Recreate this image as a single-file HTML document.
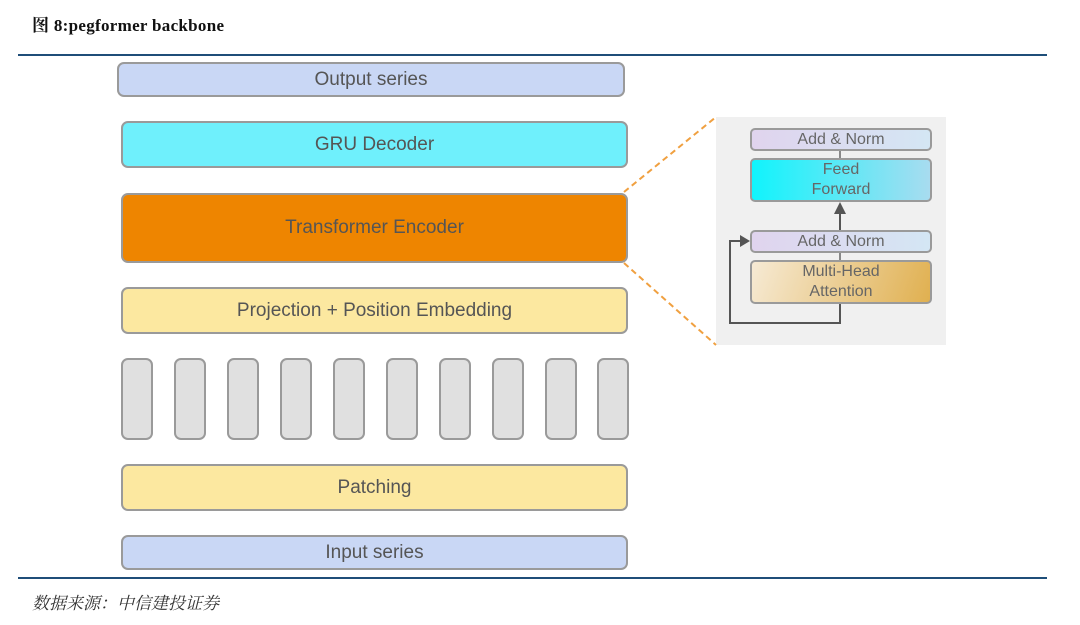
<!DOCTYPE html>
<html><head><meta charset="utf-8"><style>
body{margin:0;width:1080px;height:625px;background:#fff;position:relative;overflow:hidden;font-family:"Liberation Sans",sans-serif}
.b{position:absolute;box-sizing:border-box;border:2px solid #9a9a9a;border-radius:7px;display:flex;align-items:center;justify-content:center;color:#555;font-size:19px;text-align:center}
.s{position:absolute;box-sizing:border-box;border:2px solid #9a9a9a;border-radius:5px;display:flex;align-items:center;justify-content:center;color:#666;font-size:16px;text-align:center;line-height:20px}
</style></head><body>
<div style="position:absolute;left:32px;top:11px;font:bold 17px 'Liberation Serif','Noto Serif CJK SC',serif;color:#111;letter-spacing:0.3px">图 8:pegformer backbone</div>
<div style="position:absolute;left:18px;top:54px;width:1029px;height:2px;background:#1f4e79"></div>
<div class="b" style="left:117px;top:62px;width:508px;height:35px;background:#c9d7f5">Output series</div>
<div class="b" style="left:121px;top:121px;width:507px;height:47px;background:#6ff0fc">GRU Decoder</div>
<div class="b" style="left:121px;top:193px;width:507px;height:70px;background:#ee8500">Transformer Encoder</div>
<div class="b" style="left:121px;top:287px;width:507px;height:47px;background:#fce8a0">Projection + Position Embedding</div>
<div class="b" style="left:121px;top:358px;width:32px;height:82px;background:#e0e0e0"></div>
<div class="b" style="left:174px;top:358px;width:32px;height:82px;background:#e0e0e0"></div>
<div class="b" style="left:227px;top:358px;width:32px;height:82px;background:#e0e0e0"></div>
<div class="b" style="left:280px;top:358px;width:32px;height:82px;background:#e0e0e0"></div>
<div class="b" style="left:333px;top:358px;width:32px;height:82px;background:#e0e0e0"></div>
<div class="b" style="left:386px;top:358px;width:32px;height:82px;background:#e0e0e0"></div>
<div class="b" style="left:439px;top:358px;width:32px;height:82px;background:#e0e0e0"></div>
<div class="b" style="left:492px;top:358px;width:32px;height:82px;background:#e0e0e0"></div>
<div class="b" style="left:545px;top:358px;width:32px;height:82px;background:#e0e0e0"></div>
<div class="b" style="left:597px;top:358px;width:32px;height:82px;background:#e0e0e0"></div>
<div class="b" style="left:121px;top:464px;width:507px;height:47px;background:#fce8a0">Patching</div>
<div class="b" style="left:121px;top:535px;width:507px;height:35px;background:#c9d7f5">Input series</div>
<div style="position:absolute;left:18px;top:577px;width:1029px;height:2px;background:#1f4e79"></div>
<div style="position:absolute;left:32px;top:589px;font:italic 17px 'Liberation Serif','Noto Serif CJK SC',serif;color:#333">数据来源：中信建投证券</div>
<div style="position:absolute;left:716px;top:117px;width:230px;height:228px;background:#f0f0f0"></div>
<svg style="position:absolute;left:0;top:0" width="1080" height="625">
<line x1="624" y1="192" x2="716" y2="117" stroke="#f0a040" stroke-width="2" stroke-dasharray="6,4"/>
<line x1="624" y1="263" x2="716" y2="345" stroke="#f0a040" stroke-width="2" stroke-dasharray="6,4"/>
<line x1="840" y1="151" x2="840" y2="158" stroke="#888" stroke-width="2"/>
<line x1="840" y1="253" x2="840" y2="260" stroke="#888" stroke-width="2"/>
<line x1="840" y1="230" x2="840" y2="212" stroke="#555" stroke-width="2"/>
<polygon points="834,214 846,214 840,202" fill="#555"/>
<polyline points="840,304 840,323 730,323 730,241 742,241" fill="none" stroke="#555" stroke-width="2"/>
<polygon points="740,235 740,247 750,241" fill="#555"/>
</svg>
<div class="s" style="left:750px;top:128px;width:182px;height:23px;background:linear-gradient(90deg,#e0d4ee,#d4e6f4)">Add &amp; Norm</div>
<div class="s" style="left:750px;top:158px;width:182px;height:44px;background:linear-gradient(90deg,#10f4fc,#a8dcf0)">Feed<br>Forward</div>
<div class="s" style="left:750px;top:230px;width:182px;height:23px;background:linear-gradient(90deg,#e0d4ee,#d4e6f4)">Add &amp; Norm</div>
<div class="s" style="left:750px;top:260px;width:182px;height:44px;background:linear-gradient(110deg,#f6ead4,#e0b050)">Multi-Head<br>Attention</div>
</body></html>
